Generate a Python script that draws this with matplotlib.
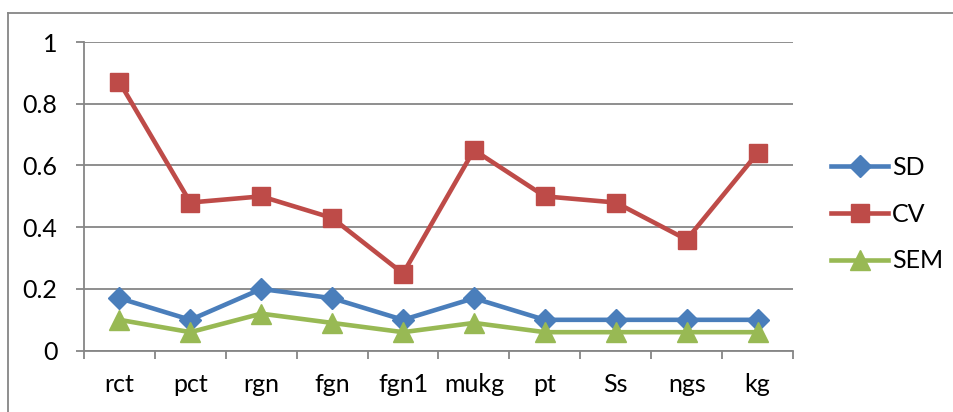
import matplotlib
matplotlib.use("Agg")
import matplotlib.pyplot as plt
from matplotlib.lines import Line2D
import numpy as np

categories = ["rct", "pct", "rgn", "fgn", "fgn1", "mukg", "pt", "Ss", "ngs", "kg"]
sd = [0.17, 0.10, 0.20, 0.17, 0.10, 0.17, 0.10, 0.10, 0.10, 0.10]
cv = [0.87, 0.48, 0.50, 0.43, 0.25, 0.65, 0.50, 0.48, 0.36, 0.64]
sem = [0.10, 0.06, 0.12, 0.09, 0.06, 0.09, 0.06, 0.06, 0.06, 0.06]
yticks = [0, 0.2, 0.4, 0.6, 0.8, 1]
ytick_labels = ["0", "0.2", "0.4", "0.6", "0.8", "1"]

plt.rcParams['font.family'] = ['Lato', 'DejaVu Sans']
FS = 18
W, H = 954, 412
fig = plt.figure(figsize=(W / 100, H / 100), dpi=100)
fig.patch.set_facecolor("white")

gray = "#868686"
# outer chart border (left and top visible)
fig.add_artist(Line2D([8.5 / W, 8.5 / W], [0, 1 - 13 / H], color=gray, lw=1.3, transform=fig.transFigure))
fig.add_artist(Line2D([8.5 / W, 1.0], [1 - 13 / H, 1 - 13 / H], color=gray, lw=1.3, transform=fig.transFigure))

left, right = 84 / W, 793 / W
bottom, top = 1 - 350.7 / H, 1 - 42 / H
ax = fig.add_axes([left, bottom, right - left, top - bottom])

x = np.arange(len(categories))
ax.plot(x, sd, color="#4A7EBB", lw=3.3, marker="D", markersize=11, label="SD", zorder=3)
ax.plot(x, cv, color="#BE4B48", lw=3.3, marker="s", markersize=13, label="CV", zorder=3)
ax.plot(x, sem, color="#98B954", lw=3.3, marker="^", markersize=14, label="SEM", zorder=3)

ax.set_xlim(-0.5, len(categories) - 0.5)
ax.set_ylim(0, 1)
ax.set_yticks(yticks)
ax.set_yticklabels(ytick_labels, fontsize=FS)
ax.yaxis.grid(True, color=gray, lw=1.3)
ax.set_axisbelow(True)

ax.set_xticks(np.arange(-0.5, len(categories) + 0.5, 1))
ax.set_xticklabels([])
ax.set_xticks(x, minor=True)
ax.set_xticklabels(categories, minor=True, fontsize=FS)
ax.tick_params(axis="x", which="major", length=6, width=1.3, color=gray, direction="out")
ax.tick_params(axis="x", which="minor", length=0, pad=16)
ax.tick_params(axis="y", length=6, width=1.3, color=gray, pad=13)

for s in ["top", "right"]:
    ax.spines[s].set_visible(False)
for s in ["left", "bottom"]:
    ax.spines[s].set_color(gray)
    ax.spines[s].set_linewidth(1.3)

leg = ax.legend(loc="center left", bbox_to_anchor=(831 / W, 1 - 214 / H), bbox_transform=fig.transFigure,
                frameon=False, fontsize=FS, handlelength=2.3, handletextpad=0.15, labelspacing=0.95,
                borderpad=0, borderaxespad=0)

fig.savefig("out.png", dpi=100, facecolor="white")
